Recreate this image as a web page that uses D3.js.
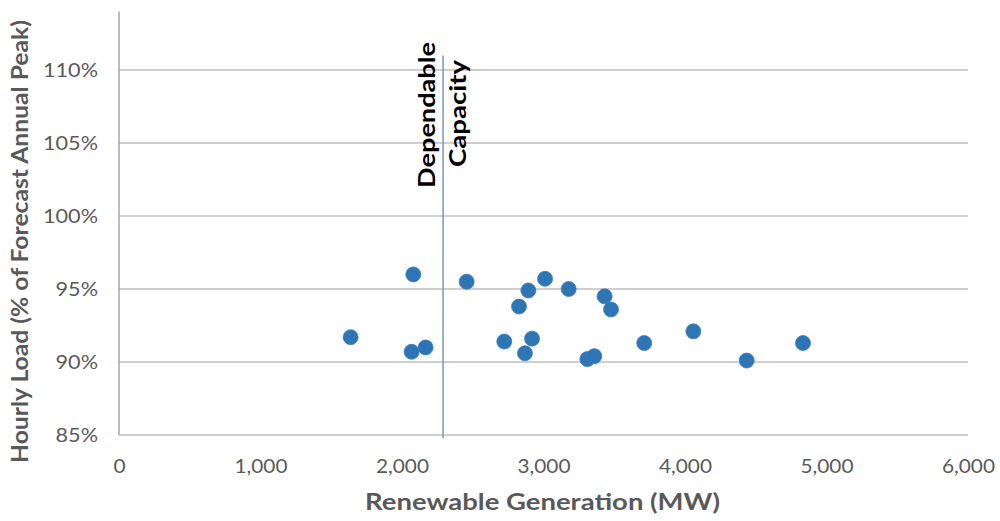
<!DOCTYPE html>
<html>
<head>
<meta charset="utf-8">
<script src="https://cdn.jsdelivr.net/npm/d3@7"></script>
<style>
  html, body { margin: 0; padding: 0; background: #fff; }
  svg { display: block; }
  text { font-family: Lato, "Open Sans", sans-serif; }
</style>
</head>
<body>
<svg id="chart" width="1000" height="521"></svg>
<script>
// Renewable generation (MW) and hourly load (% of forecast annual peak)
const generationMW = [1637, 2068, 2080, 2167, 2457, 2723, 2827, 2869, 2893, 2919,
                      3011, 3178, 3310, 3359, 3432, 3477, 3712, 4059, 4436, 4834];
const loadPct = [91.7, 90.7, 96.0, 91.0, 95.5, 91.4, 93.8, 90.6, 94.9, 91.6,
                 95.7, 95.0, 90.2, 90.4, 94.5, 93.6, 91.3, 92.1, 90.1, 91.3];
const xTicks = [0, 1000, 2000, 3000, 4000, 5000, 6000];
const yTicks = [85, 90, 95, 100, 105, 110];
const dependableCapacityMW = 2290;
const markerLabel = ["Dependable", "Capacity"];
const xTitle = "Renewable Generation (MW)";
const yTitle = "Hourly Load (% of Forecast Annual Peak)";

const svg = d3.select("#chart");
const plotLeft = 119, plotRight = 968, plotTop = 70, plotBottom = 435;

const x = d3.scaleLinear().domain([0, 6000]).range([plotLeft, plotRight]);
const y = d3.scaleLinear().domain([85, 110]).range([plotBottom, plotTop]);

// widen text to a given run length (the chart's type is set wide)
function fitLength(sel, len) {
  sel.attr("textLength", len).attr("lengthAdjust", "spacingAndGlyphs");
}
function widenBy(sel, factor) {
  sel.each(function () {
    const w = this.getComputedTextLength();
    d3.select(this).attr("textLength", w * factor).attr("lengthAdjust", "spacingAndGlyphs");
  });
}

// horizontal gridlines
svg.append("g")
  .selectAll("line")
  .data(yTicks)
  .join("line")
  .attr("x1", plotLeft).attr("x2", plotRight)
  .attr("y1", d => y(d)).attr("y2", d => y(d))
  .attr("stroke", "#bfbfbf").attr("stroke-width", 1.5);

// left axis line runs above the top gridline
svg.append("line")
  .attr("x1", plotLeft).attr("x2", plotLeft)
  .attr("y1", y(114)).attr("y2", plotBottom)
  .attr("stroke", "#a6a6a6").attr("stroke-width", 1.5);

// y tick labels
const yAxis = d3.axisLeft(y).tickValues(yTicks).tickSize(0).tickPadding(21)
  .tickFormat(d => d + "%");
const gy = svg.append("g").attr("transform", `translate(${plotLeft},0)`).call(yAxis);
gy.select(".domain").remove();
const yLabels = gy.selectAll("text")
  .attr("fill", "#595959").attr("font-size", 20)
  .style("font-family", "Lato, sans-serif");
{
  const ref = yLabels.filter(d => d === 110).node().getComputedTextLength();
  widenBy(yLabels, 55 / ref);
}

// x tick labels
const xAxis = d3.axisBottom(x).tickValues(xTicks).tickSize(0).tickPadding(24)
  .tickFormat(d3.format(","));
const gx = svg.append("g").attr("transform", `translate(0,${plotBottom})`).call(xAxis);
gx.select(".domain").remove();
const xLabels = gx.selectAll("text")
  .attr("fill", "#595959").attr("font-size", 20)
  .style("font-family", "Lato, sans-serif");
{
  const ref = xLabels.filter(d => d === 1000).node().getComputedTextLength();
  widenBy(xLabels, 53 / ref);
}

// dependable capacity marker
const capX = x(dependableCapacityMW);
svg.append("line")
  .attr("x1", capX).attr("x2", capX)
  .attr("y1", y(111)).attr("y2", y(84.8))
  .attr("stroke", "#7a97bd").attr("stroke-width", 1.5);

svg.append("text")
  .attr("transform", `translate(${capX - 8},115) rotate(-90)`)
  .attr("text-anchor", "middle")
  .attr("font-size", 23).attr("font-weight", "bold").attr("fill", "#000")
  .text(markerLabel[0])
  .call(fitLength, 146);
svg.append("text")
  .attr("transform", `translate(${capX + 23},113.5) rotate(-90)`)
  .attr("text-anchor", "middle")
  .attr("font-size", 23).attr("font-weight", "bold").attr("fill", "#000")
  .text(markerLabel[1])
  .call(fitLength, 107);

// data points
svg.append("g")
  .selectAll("circle")
  .data(generationMW.map((g, i) => ({ g, l: loadPct[i] })))
  .join("circle")
  .attr("cx", d => x(d.g))
  .attr("cy", d => y(d.l))
  .attr("r", 7.5)
  .attr("fill", "#2e75b6")
  .attr("stroke", "#3b7cb9").attr("stroke-width", 0.8);

// axis titles
svg.append("text")
  .attr("x", 542.5).attr("y", 510)
  .attr("text-anchor", "middle")
  .attr("font-size", 23).attr("font-weight", "bold").attr("fill", "#595959")
  .text(xTitle)
  .call(fitLength, 355);

svg.append("text")
  .attr("transform", `translate(28,241.5) rotate(-90)`)
  .attr("text-anchor", "middle")
  .attr("font-size", 22.5).attr("font-weight", "bold").attr("fill", "#595959")
  .text(yTitle)
  .call(fitLength, 443);
</script>
</body>
</html>
